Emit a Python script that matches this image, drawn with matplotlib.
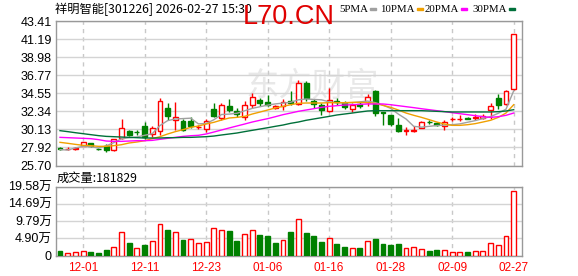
import numpy as np
import matplotlib
matplotlib.use("Agg")
import matplotlib.pyplot as plt
from matplotlib.patches import Rectangle

# ---- data ----
dates = (['11-26', '11-27', '11-28']
         + ['12-01', '12-02', '12-03', '12-04', '12-05',
            '12-08', '12-09', '12-10', '12-11', '12-12',
            '12-15', '12-16', '12-17', '12-18', '12-19',
            '12-22', '12-23', '12-24', '12-25', '12-26',
            '12-29', '12-30', '12-31']
         + ['01-05', '01-06', '01-07', '01-08', '01-09',
            '01-12', '01-13', '01-14', '01-15', '01-16',
            '01-19', '01-20', '01-21', '01-22', '01-23',
            '01-26', '01-27', '01-28', '01-29', '01-30']
         + ['02-02', '02-03', '02-04', '02-05', '02-06',
            '02-09', '02-10', '02-11', '02-12', '02-13',
            '02-24', '02-25', '02-26', '02-27'])
tick_dates = ['12-01', '12-11', '12-23', '01-06', '01-16', '01-28', '02-09', '02-27']

opens = [27.80, 27.72, 27.76, 28.13, 28.46, 27.78, 28.05, 27.64, 29.07, 29.96,
         29.85, 30.58, 29.60, 29.96, 32.75, 31.30, 31.12, 31.12, 30.40, 30.20,
         32.66, 31.52, 33.03, 32.42, 31.60, 33.15, 33.76, 33.48, 32.75, 32.96,
         33.64, 33.24, 35.77, 33.60, 33.15, 32.34, 33.57, 33.36, 32.62, 33.24,
         33.48, 34.80, 32.20, 31.93, 30.63, 29.95, 29.95, 30.30, 31.05, 30.90,
         30.50, 31.40, 31.40, 31.50, 31.50, 31.52, 32.54, 33.97, 33.24, 35.04]
closes = [27.72, 27.76, 27.80, 28.54, 28.05, 27.72, 27.64, 28.98, 30.30, 29.47,
          29.80, 29.16, 30.30, 33.57, 31.73, 31.65, 30.09, 30.50, 30.45, 31.12,
          31.73, 33.15, 32.54, 32.00, 33.15, 34.06, 33.36, 33.15, 32.96, 33.48,
          33.36, 35.85, 33.94, 33.24, 32.54, 33.76, 33.45, 32.83, 33.15, 32.96,
          34.06, 32.13, 32.10, 30.79, 29.89, 30.00, 30.00, 31.03, 31.00, 30.63,
          31.03, 31.45, 31.45, 31.44, 31.60, 31.73, 32.96, 33.08, 34.87, 41.82]
highs = [27.95, 28.00, 27.98, 28.60, 28.50, 27.90, 28.30, 29.00, 31.40, 30.05,
         30.05, 31.00, 30.50, 33.97, 33.40, 33.50, 31.40, 31.60, 30.70, 31.35,
         33.40, 33.36, 33.80, 32.70, 33.60, 34.60, 33.97, 34.30, 33.10, 33.80,
         34.80, 36.20, 36.00, 33.80, 33.40, 35.20, 34.00, 33.60, 33.40, 33.50,
         34.50, 34.95, 32.30, 31.95, 31.50, 30.40, 30.50, 31.10, 31.30, 31.00,
         31.30, 31.70, 31.85, 31.60, 32.00, 32.00, 33.30, 34.50, 35.00, 41.82]
lows = [27.57, 27.55, 27.55, 28.10, 28.00, 27.60, 27.35, 27.50, 29.00, 29.35,
        29.45, 28.90, 29.20, 29.47, 31.30, 30.10, 29.97, 30.30, 30.20, 29.85,
        31.60, 31.30, 32.25, 31.70, 31.30, 32.70, 32.95, 32.95, 32.60, 32.50,
        33.10, 33.10, 33.60, 32.70, 31.90, 32.20, 33.10, 32.60, 32.30, 32.70,
        32.96, 31.80, 30.63, 30.50, 29.85, 29.40, 29.80, 30.25, 30.75, 30.50,
        30.10, 31.20, 31.10, 31.35, 31.30, 31.40, 31.45, 32.60, 33.10, 35.00]

# volume in 万 shares, and whether the bar is drawn red (up)
volumes = [1.15, 0.76, 1.05, 1.34, 0.86, 0.57, 1.43, 2.48, 6.78, 3.44,
           2.20, 2.87, 4.20, 9.07, 7.16, 6.78, 4.30, 4.78, 3.63, 3.92,
           7.93, 7.35, 6.88, 4.01, 6.21, 7.35, 5.73, 5.44, 3.44, 4.49,
           6.59, 10.22, 6.40, 5.44, 3.72, 5.06, 3.15, 2.29, 2.20, 2.01,
           4.20, 4.58, 3.15, 2.87, 3.15, 2.20, 2.48, 1.91, 1.15, 1.43,
           1.62, 1.05, 1.05, 0.86, 1.34, 1.34, 3.63, 3.06, 5.63, 18.1829]
vol_up = [0, 1, 1, 1, 0, 0, 0, 1, 1, 0, 1, 0, 1, 1, 0, 1, 0, 1, 1, 1,
          1, 1, 0, 0, 1, 1, 0, 0, 0, 1, 0, 1, 0, 0, 0, 1, 0, 0, 1, 0,
          1, 0, 0, 0, 0, 1, 1, 1, 0, 0, 1, 1, 1, 0, 1, 1, 1, 1, 1, 1]

ma5 = [27.64, 27.60, 27.85, 28.05, 28.00, 27.85, 28.10, 28.50, 28.98, 29.10,
       29.20, 29.40, 29.60, 30.60, 31.20, 31.40, 31.45, 31.50, 30.80, 30.85,
       31.30, 31.95, 32.00, 32.10, 32.40, 32.70, 32.90, 33.10, 33.25, 33.35,
       33.45, 33.75, 33.85, 33.80, 33.75, 33.50, 33.40, 33.36, 33.40, 33.50,
       33.60, 33.40, 33.10, 32.70, 32.00, 31.40, 30.50, 30.40, 30.50, 30.60,
       30.65, 30.70, 30.80, 31.00, 31.20, 31.45, 31.70, 32.10, 32.60, 34.85]
ma10 = [28.54, 28.42, 28.29, 28.17, 28.13, 28.05, 28.05, 28.13, 28.25, 28.46,
        28.58, 28.74, 28.99, 29.23, 29.56, 29.85, 30.09, 30.38, 30.54, 30.78,
        30.99, 31.27, 31.52, 31.60, 31.72, 32.01, 32.25, 32.50, 32.75, 32.95,
        33.15, 33.32, 33.36, 33.36, 33.36, 33.40, 33.40, 33.40, 33.44, 33.44,
        33.40, 33.32, 33.07, 32.83, 32.50, 32.13, 31.85, 31.60, 31.32, 31.03,
        30.78, 30.62, 30.62, 30.70, 30.83, 31.03, 31.24, 31.60, 32.13, 33.15]
ma20 = [29.15, 29.11, 29.07, 29.03, 28.99, 28.87, 28.70, 28.66, 28.66, 28.70,
        28.74, 28.74, 28.78, 28.91, 29.03, 29.15, 29.27, 29.35, 29.40, 29.56,
        29.80, 30.05, 30.30, 30.54, 30.78, 31.03, 31.24, 31.44, 31.68, 31.93,
        32.13, 32.34, 32.50, 32.66, 32.83, 32.95, 33.03, 33.11, 33.15, 33.20,
        33.24, 33.24, 33.24, 33.15, 33.03, 32.91, 32.79, 32.66, 32.54, 32.42,
        32.30, 32.17, 32.05, 31.93, 31.81, 31.68, 31.60, 31.68, 31.85, 32.13]
ma30 = [29.97, 29.85, 29.72, 29.60, 29.48, 29.36, 29.27, 29.23, 29.19, 29.15,
        29.11, 29.07, 29.07, 29.07, 29.11, 29.11, 29.15, 29.15, 29.19, 29.23,
        29.31, 29.44, 29.56, 29.68, 29.85, 30.01, 30.17, 30.33, 30.50, 30.66,
        30.87, 31.03, 31.24, 31.40, 31.56, 31.72, 31.89, 32.01, 32.13, 32.26,
        32.38, 32.42, 32.42, 32.42, 32.42, 32.42, 32.42, 32.42, 32.38, 32.34,
        32.30, 32.26, 32.26, 32.26, 32.26, 32.26, 32.26, 32.30, 32.38, 32.54]

price_ticks = [25.70, 27.92, 30.13, 32.34, 34.55, 36.77, 38.98, 41.19, 43.41]
vol_ticks = [0, 4.895, 9.79, 14.685, 19.58]
vol_labels = ['0', '4.90万', '9.79万', '14.69万', '19.58万']

ma_names = ['5PMA', '10PMA', '20PMA', '30PMA']
ma_colors = ['#a0a0a0', '#f0a000', '#ff00ff', '#00703a']

RED = '#ff0000'
GREEN = '#008000'
GRID = '#d4d4d4'
FRAME = '#999999'
LAB = ['Liberation Sans', 'Noto Sans CJK SC']
CJK = ['Noto Sans CJK SC', 'DejaVu Sans']

W, H = 578, 276
fig = plt.figure(figsize=(W / 100, H / 100), dpi=100)
fig.patch.set_facecolor('white')

# --- panels ---
ax = fig.add_axes([56 / W, 1 - 165.5 / H, 466 / W, 144.5 / H])
axv = fig.add_axes([56 / W, 1 - 255.5 / H, 466 / W, 69 / H])

n = len(closes)
idx = np.arange(n)
tick_idx = [dates.index(d) for d in tick_dates]

for a in (ax, axv):
    a.set_xlim(-0.52, n + 0.08)
    for s in a.spines.values():
        s.set_color(FRAME)
        s.set_linewidth(1)
    a.set_xticks(tick_idx)
    a.tick_params(length=0)
    a.grid(True, axis='y', color=GRID, linewidth=1, linestyle='-')
    a.grid(True, axis='x', color='#c8c8c8', linewidth=1, linestyle=(0, (3, 3)))
    a.set_axisbelow(True)

# watermark
ax.text(0.55, 0.55, '东方财富', transform=ax.transAxes, fontsize=24,
        color='#e8e8e8', ha='center', va='center', family=CJK, zorder=0)

# --- candles ---
o = np.array(opens)
c = np.array(closes)
up = c >= o
body_lo = np.minimum(o, c)
body_h = np.maximum(np.abs(c - o), 0.02)
wick_col = [RED if u else GREEN for u in up]
ax.vlines(idx, lows, highs, colors=wick_col, linewidth=1, zorder=2)
ax.bar(idx, body_h, bottom=body_lo, width=0.64,
       color=['white' if u else GREEN for u in up],
       edgecolor=wick_col, linewidth=1, zorder=3)

for vals, col in zip([ma5, ma10, ma20, ma30], ma_colors):
    ax.plot(idx, vals, color=col, linewidth=1, zorder=4)

ax.set_ylim(price_ticks[0], price_ticks[-1])
ax.set_yticks(price_ticks)
ax.set_yticklabels([f'{t:.2f}' for t in price_ticks], family=LAB, fontsize=9)
ax.tick_params(axis='x', labelbottom=False)
ax.tick_params(axis='y', pad=3)

# --- volume ---
vu = np.array(vol_up, dtype=bool)
axv.bar(idx, volumes, width=0.64,
        color=['white' if u else GREEN for u in vu],
        edgecolor=[RED if u else GREEN for u in vu], linewidth=1, zorder=3)
axv.set_ylim(0, vol_ticks[-1])
axv.set_yticks(vol_ticks)
axv.set_yticklabels(vol_labels, family=LAB, fontsize=9)
axv.set_xticklabels(tick_dates, family=LAB, fontsize=8.5, color=RED)
axv.tick_params(axis='x', pad=5)
axv.tick_params(axis='y', pad=3)

# --- header texts ---
fig.text(55 / W, 1 - 9 / H, '祥明智能[301226] 2026-02-27 15:30',
         family=CJK, fontsize=8.8, va='center', ha='left')
fig.text(243 / W, 1 - 17 / H, 'L70.CN', family='Liberation Sans',
         fontsize=19.5, color='#e00000', va='center', ha='left')

# legend: text start and colour-dash start in pixels
leg_x = [339, 380, 425, 472]
dash_x = [366, 413, 460, 505]
renderer = fig.canvas.get_renderer()
for name, col, lx, dx in zip(ma_names, ma_colors, leg_x, dash_x):
    t = fig.text(lx / W, 1 - 9 / H, name, family='Liberation Serif',
                 fontsize=7.8, va='center', ha='left')
    end = t.get_window_extent(renderer).x1
    dx = max(dx, end + 2)
    fig.patches.append(Rectangle((dx / W, 1 - 10 / H), 6 / W, 2 / H,
                                 transform=fig.transFigure, color=col))

fig.text(57 / W, 1 - 178 / H, '成交量:181829', family=CJK, fontsize=8.8,
         va='center', ha='left')

fig.savefig('out.png', dpi=100, facecolor='white')
